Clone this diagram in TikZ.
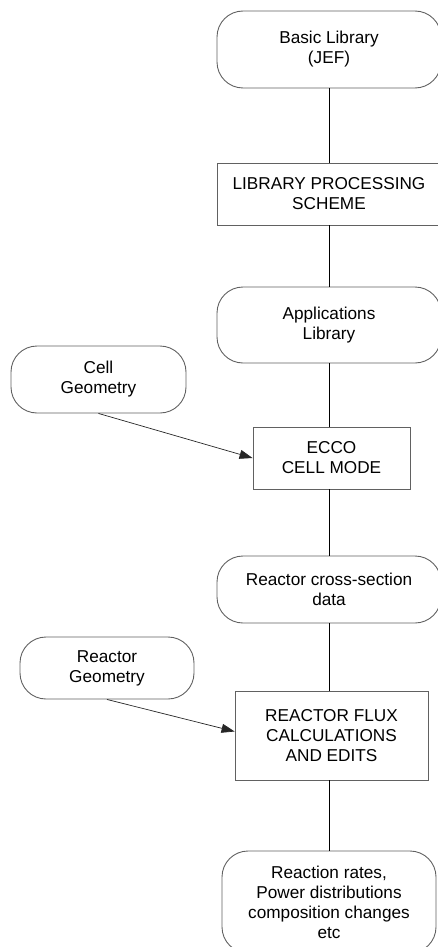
\documentclass[tikz,border=0pt]{standalone}
\usepackage{fontspec}
\setmainfont{Liberation Sans}
\usetikzlibrary{arrows.meta,calc}
\begin{document}
\begin{tikzpicture}[x=1pt,y=-1pt,
  base/.style={draw=black!62,line width=0.9pt,align=center,inner sep=0pt,
    font=\fontsize{17.2}{20}\selectfont,text=black},
  term/.style={base,rounded corners=26pt},
  proc/.style={base},
  link/.style={line width=0.9pt,draw=black},
  feed/.style={line width=0.7pt,draw=black!85,-{Triangle[length=13pt,width=9pt]}}]
\useasboundingbox (0,0) rectangle (438,947);
\node[term,minimum width=224pt,minimum height=77pt] (basic) at (329,49.5) {Basic Library\\(JEF)};
\node[proc,minimum width=224pt,minimum height=62pt] (lps) at (329,194) {LIBRARY PROCESSING\\SCHEME};
\node[term,minimum width=224pt,minimum height=76pt] (app) at (329,325) {Applications\\Library};
\node[term,minimum width=175pt,minimum height=67pt] (cell) at (98.5,379.5) {Cell\\Geometry};
\node[proc,minimum width=157pt,minimum height=62pt] (ecco) at (331.5,458) {ECCO\\CELL MODE};
\node[term,minimum width=224pt,minimum height=67pt] (rcs) at (329,589.5) {Reactor cross-section\\data};
\node[term,minimum width=174pt,minimum height=62pt] (rgeo) at (107,668) {Reactor\\Geometry};
\node[proc,minimum width=193pt,minimum height=89pt] (flux) at (331.5,735.5) {REACTOR FLUX\\CALCULATIONS\\AND EDITS};
\node[term,minimum width=214pt,minimum height=102pt] (rr) at (329,902) {Reaction rates,\\Power distributions\\composition changes\\etc};
\draw[link] (basic.south) -- (lps.north);
\draw[link] (lps.south) -- (app.north);
\draw[link] (app.south) -- (app.south |- ecco.north);
\draw[link] (rcs.north |- ecco.south) -- (rcs.north);
\draw[link] (rcs.south) -- (rcs.south |- flux.north);
\draw[link] (rr.north |- flux.south) -- (rr.north);
\draw[feed] (cell.south) -- (ecco.west);
\draw[feed] (rgeo.south) -- ($(flux.west)+(0,-4)$);
\end{tikzpicture}
\end{document}
